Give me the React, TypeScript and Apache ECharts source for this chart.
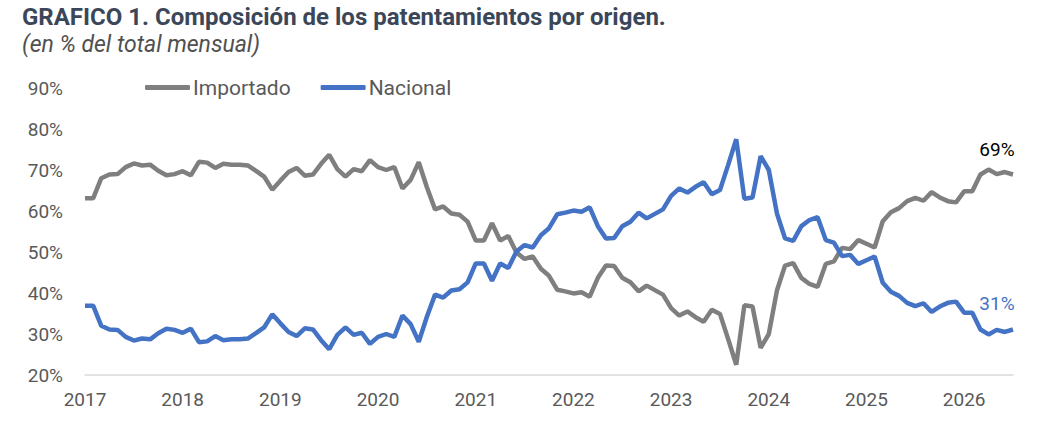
import React, { useEffect, useRef } from "react";
import * as echarts from "echarts";

const years = ["2017", "2018", "2019", "2020", "2021", "2022", "2023", "2024", "2025", "2026"];
const monthNames = ["ene", "feb", "mar", "abr", "may", "jun", "jul", "ago", "sep", "oct", "nov", "dic"];

const nacional = [
  36.9, 36.9, 32.0, 31.1, 31.0, 29.3, 28.4, 28.9, 28.7, 30.2, 31.3, 31.0,
  30.3, 31.3, 28.0, 28.2, 29.5, 28.5, 28.7, 28.7, 28.9, 30.2, 31.6, 34.8,
  32.6, 30.5, 29.5, 31.4, 31.1, 28.5, 26.3, 29.8, 31.6, 29.8, 30.3, 27.6,
  29.3, 30.0, 29.3, 34.5, 32.4, 28.1, 34.2, 39.6, 38.9, 40.6, 40.9, 42.6,
  47.2, 47.2, 43.0, 47.2, 46.1, 50.1, 51.7, 51.1, 54.1, 55.8, 59.2, 59.6,
  60.1, 59.8, 60.9, 56.3, 53.3, 53.4, 56.3, 57.4, 59.6, 58.2, 59.3, 60.4,
  63.7, 65.5, 64.5, 65.9, 67.0, 64.1, 65.1, 71.2, 77.5, 63.0, 63.3, 73.4,
  70.0, 59.4, 53.3, 52.7, 56.3, 57.8, 58.5, 52.9, 52.3, 49.0, 49.3, 47.1,
  48.0, 48.9, 42.5, 40.3, 39.3, 37.6, 36.8, 37.5, 35.4, 36.7, 37.6, 37.9,
  35.2, 35.2, 31.1, 29.9, 31.0, 30.5, 31.1,
];

const importado = [
  63.1, 63.1, 68.0, 68.9, 69.0, 70.7, 71.6, 71.1, 71.3, 69.8, 68.7, 69.0,
  69.7, 68.7, 72.0, 71.8, 70.5, 71.5, 71.3, 71.3, 71.1, 69.8, 68.4, 65.2,
  67.4, 69.5, 70.5, 68.6, 68.9, 71.5, 73.7, 70.2, 68.4, 70.2, 69.7, 72.4,
  70.7, 70.0, 70.7, 65.5, 67.6, 71.9, 65.8, 60.4, 61.1, 59.4, 59.1, 57.4,
  52.8, 52.8, 57.0, 52.8, 53.9, 49.9, 48.3, 48.9, 45.9, 44.2, 40.8, 40.4,
  39.9, 40.2, 39.1, 43.7, 46.7, 46.6, 43.7, 42.6, 40.4, 41.8, 40.7, 39.6,
  36.3, 34.5, 35.5, 34.1, 33.0, 35.9, 34.9, 28.8, 22.5, 37.0, 36.7, 26.6,
  30.0, 40.6, 46.7, 47.3, 43.7, 42.2, 41.5, 47.1, 47.7, 51.0, 50.7, 52.9,
  52.0, 51.1, 57.5, 59.7, 60.7, 62.4, 63.2, 62.5, 64.6, 63.3, 62.4, 62.1,
  64.8, 64.8, 68.9, 70.1, 69.0, 69.5, 68.9,
];

const categories = years
  .flatMap((y) => monthNames.map((m) => `${m}-${y}`))
  .slice(0, nacional.length);

const GRAY = "#7F7F7F";
const BLUE = "#4472C4";
const FONT = "Roboto";

function withEndLabel(values: number[], color: string) {
  return values.map((v, i) =>
    i === values.length - 1
      ? {
          value: v,
          label: {
            show: true,
            position: "top",
            offset: [-16, -11],
            formatter: `${Math.round(v)}%`,
            color,
            fontSize: 19,
            fontFamily: FONT,
          },
        }
      : v
  );
}

export default function App() {
  const ref = useRef<HTMLDivElement>(null);

  useEffect(() => {
    document.body.style.margin = "0";
    if (!ref.current) return;
    const chart = echarts.init(ref.current, null, { renderer: "svg" });
    chart.setOption({
      animation: false,
      backgroundColor: "#ffffff",
      graphic: [
        {
          type: "text",
          left: 22,
          top: 5,
          style: {
            text: "GRAFICO 1. Composición de los patentamientos por origen.",
            font: `bold 24px ${FONT}`,
            fill: "#3B4758",
          },
        },
        {
          type: "text",
          left: 22,
          top: 33,
          style: {
            text: "(en % del total mensual)",
            font: `italic 23px ${FONT}`,
            fill: "#505050",
          },
        },
      ],
      legend: {
        left: 140,
        top: 72,
        itemWidth: 45,
        itemHeight: 5,
        itemGap: 30,
        icon: "roundRect",
        textStyle: { fontSize: 21, fontFamily: FONT, color: "#595959", padding: [0, 0, 0, -2] },
        data: ["Importado", "Nacional"],
      },
      grid: {
        left: 85,
        right: 45,
        top: 88,
        bottom: 46,
        containLabel: false,
        outerBoundsMode: "none",
      },
      xAxis: {
        type: "category",
        data: categories,
        boundaryGap: false,
        axisLine: { lineStyle: { color: "#D9D9D9", width: 1.5 } },
        axisTick: { show: false },
        axisLabel: {
          interval: 11,
          formatter: (v: string) => v.split("-")[1],
          color: "#595959",
          fontSize: 19,
          fontFamily: FONT,
          margin: 15,
        },
        splitLine: { show: false },
      },
      yAxis: {
        type: "value",
        min: 20,
        max: 90,
        interval: 10,
        axisLine: { show: false },
        axisTick: { show: false },
        splitLine: { show: false },
        axisLabel: {
          formatter: "{value}%",
          color: "#595959",
          fontSize: 19,
          fontFamily: FONT,
          margin: 22,
        },
      },
      series: [
        {
          name: "Importado",
          type: "line",
          data: withEndLabel(importado, "#000000"),
          symbol: "circle",
          symbolSize: 0,
          showSymbol: true,
          lineStyle: { color: GRAY, width: 4.5 },
          itemStyle: { color: GRAY },
        },
        {
          name: "Nacional",
          type: "line",
          data: withEndLabel(nacional, BLUE),
          symbol: "circle",
          symbolSize: 0,
          showSymbol: true,
          lineStyle: { color: BLUE, width: 4.5 },
          itemStyle: { color: BLUE },
        },
      ],
    });
    return () => chart.dispose();
  }, []);

  return <div ref={ref} style={{ width: 1058, height: 421 }} />;
}
